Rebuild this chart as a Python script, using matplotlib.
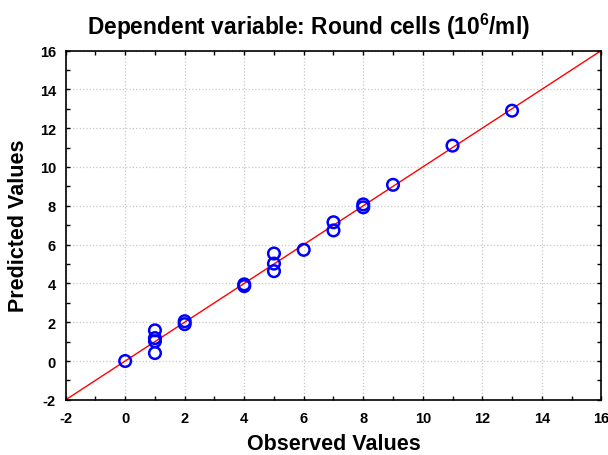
import numpy as np
import matplotlib.pyplot as plt
from matplotlib.ticker import MultipleLocator

plt.rcParams['font.family'] = ['Liberation Sans', 'DejaVu Sans']
plt.rcParams['axes.unicode_minus'] = False
plt.rcParams['mathtext.fontset'] = 'custom'
plt.rcParams['mathtext.bf'] = 'Liberation Sans:bold'
plt.rcParams['mathtext.rm'] = 'Liberation Sans'

# observed vs predicted values
observed = [0, 1, 1, 1, 1, 2, 2, 4, 4, 5, 5, 5, 6, 7, 7, 8, 8, 9, 11, 13]
predicted = [0.0, 1.58, 1.18, 1.02, 0.41, 2.05, 1.9, 3.95, 3.86, 5.54, 5.02, 4.63,
             5.73, 7.15, 6.73, 8.07, 7.92, 9.08, 11.1, 12.9]
axis_range = [-2, 16]

fig = plt.figure(figsize=(6.08, 4.56), dpi=100)
ax = fig.add_axes([0.108, 0.121, 0.881, 0.766])

ax.plot(axis_range, axis_range, color='red', lw=1.0, zorder=2)
ax.scatter(observed, predicted, s=70, facecolors='none', edgecolors='blue',
           linewidths=1.8, zorder=3, clip_on=False)

ax.set_xlim(axis_range)
ax.set_ylim(axis_range)
ax.xaxis.set_major_locator(MultipleLocator(2))
ax.yaxis.set_major_locator(MultipleLocator(2))
ax.xaxis.set_minor_locator(MultipleLocator(1))
ax.yaxis.set_minor_locator(MultipleLocator(1))
ax.tick_params(which='both', direction='in', top=True, right=True, length=3, width=1)
ax.tick_params(labelsize=10.5)
ax.tick_params(axis='x', pad=8)
ax.tick_params(axis='y', pad=7)
for lab in ax.get_xticklabels() + ax.get_yticklabels():
    lab.set_fontweight('bold')
ax.grid(True, which='major', color='#c8c8c8', linestyle=':', linewidth=0.9)
ax.set_axisbelow(True)
for sp in ax.spines.values():
    sp.set_linewidth(1.2)

ax.set_xlabel('Observed Values', fontsize=15.5, fontweight='bold', labelpad=6)
ax.set_ylabel('Predicted Values', fontsize=15.5, fontweight='bold', labelpad=8)
ax.set_title(r'Dependent variable: Round cells (10$^{\mathbf{6}}$/ml)', fontsize=16.4,
             fontweight='bold', pad=12, x=0.4525)

fig.savefig('out.png', dpi=100)
